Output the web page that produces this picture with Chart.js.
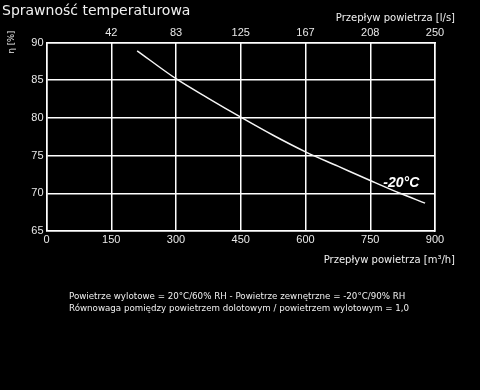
<!DOCTYPE html>
<html>
<head>
<meta charset="utf-8">
<script src="https://cdn.jsdelivr.net/npm/chart.js@4"></script>
<style>
  html, body { margin: 0; padding: 0; background: #000; }
  #wrap { width: 480px; height: 390px; position: relative; }
</style>
</head>
<body>
<div id="wrap"><canvas id="myChart" width="480" height="390"></canvas></div>
<script>
// air flow m3/h and temperature efficiency %
const flowM3h = [210, 300, 375, 450, 525, 600, 675, 750, 819, 877]
const efficiency = [88.9, 85.2, 82.6, 80.1, 77.7, 75.5, 73.6, 71.7, 70.0, 68.7]
const bottomTicks = [0, 150, 300, 450, 600, 750, 900]
const topTickLabels = ["", "42", "83", "125", "167", "208", "250"]
const seriesLabel = "-20°C"

const tickFont = { family: "Liberation Sans", size: 11 }
const textColor = "#e8e8e8"

const textPlugin = {
    id: "texts",
    afterDraw(chart) {
        const ctx = chart.ctx
        ctx.save()
        ctx.fillStyle = "#f0f0f0"
        ctx.textBaseline = "alphabetic"

        ctx.font = "14px 'DejaVu Sans'"
        ctx.textAlign = "left"
        ctx.fillText("Sprawność temperaturowa", 2, 15)

        ctx.font = "10px 'DejaVu Sans'"
        ctx.textAlign = "right"
        ctx.fillText("Przepływ powietrza [l/s]", 455, 21)
        ctx.fillText("Przepływ powietrza [m³/h]", 455, 263)

        ctx.font = "8.7px 'DejaVu Sans'"
        ctx.textAlign = "left"
        ctx.fillText("Powietrze wylotowe = 20°C/60% RH - Powietrze zewnętrzne = -20°C/90% RH", 69, 299)
        ctx.fillText("Równowaga pomiędzy powietrzem dolotowym / powietrzem wylotowym = 1,0", 69, 311)

        ctx.translate(14, 42)
        ctx.rotate(-Math.PI / 2)
        ctx.textAlign = "center"
        ctx.font = "8.5px 'DejaVu Sans'"
        ctx.fillText("η [%]", 0, 0)
        ctx.restore()

        // series label
        const x = chart.scales.x.getPixelForValue(822)
        const y = chart.scales.y.getPixelForValue(70.9)
        ctx.save()
        ctx.fillStyle = "#ffffff"
        ctx.font = "italic bold 14px 'Liberation Sans'"
        ctx.textAlign = "center"
        ctx.fillText(seriesLabel, x, y)
        ctx.restore()
    }
}

function main() {
    const ctx = document.getElementById("myChart")

    new Chart(ctx, {
        type: "line",
        data: {
            datasets: [
                {
                    label: seriesLabel,
                    data: flowM3h.map((v, i) => ({ x: v, y: efficiency[i] })),
                    borderColor: "#f4f4f4",
                    borderWidth: 1.5,
                    pointRadius: 0,
                    cubicInterpolationMode: "monotone",
                },
            ],
        },
        plugins: [textPlugin],
        options: {
            responsive: false,
            animation: false,
            layout: { padding: { left: 0, right: 45, top: 0, bottom: 139 } },
            plugins: { legend: { display: false }, tooltip: { enabled: false } },
            scales: {
                x: {
                    type: "linear",
                    position: "bottom",
                    min: 0,
                    max: 900,
                    afterBuildTicks: s => { s.ticks = bottomTicks.map(v => ({ value: v })) },
                    afterFit: s => { s.height = 20 },
                    grid: { color: "#ffffff", lineWidth: 1.5, drawTicks: false },
                    border: { color: "#ffffff", width: 1.5 },
                    ticks: { color: textColor, font: tickFont, padding: 2, maxRotation: 0 },
                },
                x2: {
                    type: "linear",
                    position: "top",
                    min: 0,
                    max: 900,
                    afterBuildTicks: s => { s.ticks = bottomTicks.map(v => ({ value: v })) },
                    afterFit: s => { s.height = 42.5 },
                    grid: { display: false, drawTicks: false, tickLength: 0 },
                    border: { color: "#ffffff", width: 1.5 },
                    ticks: {
                        color: textColor,
                        font: tickFont,
                        padding: 3,
                        maxRotation: 0,
                        callback: (v, i) => topTickLabels[i],
                    },
                },
                y: {
                    min: 65,
                    max: 90,
                    afterFit: s => { s.width = 46.5 },
                    grid: { color: "#ffffff", lineWidth: 1.5, drawTicks: false },
                    border: { color: "#ffffff", width: 1.5 },
                    ticks: { color: textColor, font: tickFont, stepSize: 5, padding: 3 },
                },
                y2: {
                    position: "right",
                    min: 65,
                    max: 90,
                    afterFit: s => { s.width = 0 },
                    grid: { display: false },
                    border: { color: "#ffffff", width: 1.5 },
                    ticks: { display: false },
                },
            },
        },
    })
}

document.addEventListener("DOMContentLoaded", main)
</script>
</body>
</html>
